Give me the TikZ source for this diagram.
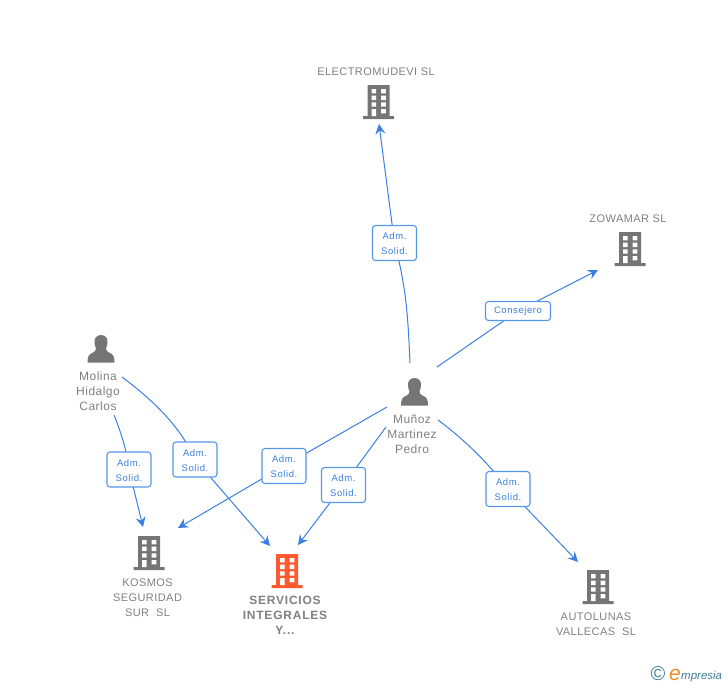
\documentclass[tikz,border=0pt]{standalone}
\usepackage{fontspec}
\setmainfont{Liberation Sans}
\newfontface\spacedA[LetterSpace=4]{Liberation Sans}
\newfontface\spacedB[LetterSpace=6.5]{Liberation Sans Bold}
\newfontface\spacedC[LetterSpace=6]{Liberation Sans}
\usetikzlibrary{arrows.meta,backgrounds}
\definecolor{linkblue}{HTML}{3B80E0}
\definecolor{boxblue}{HTML}{5597EA}
\definecolor{txtgrey}{HTML}{808080}
\definecolor{icongrey}{HTML}{757575}
\definecolor{iconorange}{HTML}{FF5A2D}
\definecolor{logoteal}{HTML}{3F7F9A}
\definecolor{logoorange}{HTML}{F08A1D}
\newcommand{\admsolid}{\rule{0pt}{9pt}Adm.\\Solid.}
\newcommand{\bldgicon}[3]{%
  \begin{scope}[shift={(#1,#2)}]
    \fill[#3] (-11,-17) rectangle (11,15) (-15.5,14) rectangle (15.5,17);
    \fill[white] (-7,-13) rectangle (-2.4,-8.7) (2.7,-13) rectangle (7.3,-8.7)
      (-7,-6.3) rectangle (-2.4,-2) (2.7,-6.3) rectangle (7.3,-2)
      (-7,0.3) rectangle (-2.4,4.7) (2.7,0.3) rectangle (7.3,4.7)
      (-7,7) rectangle (-2.4,14) (2.7,7) rectangle (7.3,11.3);
  \end{scope}}
\newcommand{\personicon}[2]{%
  \begin{scope}[shift={(#1,#2)}]
    \fill[icongrey] (0,-14) .. controls (-5,-14) and (-7,-10) .. (-6.5,-6)
      .. controls (-6.2,-3) and (-5.5,-2) .. (-5,-1)
      .. controls (-5,1.5) and (-6,2.5) .. (-8,3.5)
      .. controls (-12,5) and (-13.5,7) .. (-13.5,13.5)
      -- (13.5,13.5)
      .. controls (13.5,7) and (12,5) .. (8,3.5)
      .. controls (6,2.5) and (5,1.5) .. (5,-1)
      .. controls (5.5,-2) and (6.2,-3) .. (6.5,-6)
      .. controls (7,-10) and (5,-14) .. (0,-14) -- cycle;
  \end{scope}}
\tikzset{
  x=1pt,y=-1pt,
  linkbox/.style={draw=boxblue,line width=1.1pt,fill=white,rounded corners=3pt,inner sep=0pt,
    text=linkblue,font=\spacedC\fontsize{9.5}{15}\selectfont,align=center,minimum width=44pt,minimum height=35pt},
  conbox/.style={linkbox,minimum width=65pt,minimum height=19pt},
  conn/.style={draw=linkblue,line width=1pt},
  arr/.style={conn,-{Stealth[length=10pt,width=10pt,inset=3.5pt]}},
  lab/.style={text=txtgrey,font=\spacedA\fontsize{11}{15}\selectfont,align=center,inner sep=0pt},
  labn/.style={text=txtgrey,font=\spacedA\fontsize{12}{15}\selectfont,align=center,inner sep=0pt},
  labb/.style={text=txtgrey,font=\spacedB\fontsize{12}{15}\selectfont,align=center,inner sep=0pt},
  icon/.style={inner sep=0pt,minimum size=30pt}
}
\begin{document}
\begin{tikzpicture}
\useasboundingbox (0,0) rectangle (728,685);
% icons
\node[icon] (electroicon) at (378.5,102) {};
\bldgicon{378.5}{102}{icongrey}
\node[icon] (zowaicon) at (630,249) {};
\bldgicon{630}{249}{icongrey}
\node[icon] (kosmosicon) at (149,553) {};
\bldgicon{149}{553}{icongrey}
\node[icon] (servicon) at (287,571) {};
\bldgicon{287}{571}{iconorange}
\node[icon] (autoicon) at (598,587) {};
\bldgicon{598}{587}{icongrey}
\node[icon] (molinaicon) at (101,349) {};
\personicon{101}{349}
\node[icon] (munozicon) at (414.5,392) {};
\personicon{414.5}{392}
% labels
\node[lab] (electrolab) at (376,72) {ELECTROMUDEVI SL};
\node[lab] (zowalab) at (628,219) {ZOWAMAR SL};
\node[labn] (molinalab) at (98,391) {Molina\\Hidalgo\\Carlos};
\node[labn] (munozlab) at (412,434) {Muñoz\\Martinez\\Pedro};
\node[lab] (kosmoslab) at (147.5,598) {KOSMOS\\SEGURIDAD\\SUR\ \ SL};
\node[labb] (servlab) at (285,615) {SERVICIOS\\INTEGRALES\\Y...};
\node[lab] (autolab) at (596,624.5) {AUTOLUNAS\\VALLECAS\ \ SL};
% link boxes
\node[linkbox] (b1) at (394.5,243) {\admsolid};
\node[conbox] (b2) at (518,311) {\raisebox{-1pt}{\fontsize{9.5}{12}\selectfont Consejero}};
\node[linkbox] (b3) at (284,466) {\admsolid};
\node[linkbox] (b4) at (343.5,485) {\admsolid};
\node[linkbox] (b5) at (508,489) {\admsolid};
\node[linkbox] (b6) at (129,469.5) {\admsolid};
\node[linkbox] (b7) at (195,459.5) {\admsolid};
% free ends
\coordinate (m1) at (410,363);
\coordinate (m2) at (437,367);
\coordinate (m3) at (387,407);
\coordinate (m4) at (386,427);
\coordinate (m5) at (438,420);
\coordinate (h1) at (114,415);
\coordinate (h2) at (122,377);
\coordinate (t1) at (379,124);
\coordinate (t2) at (598,270);
\coordinate (t3) at (178,528);
\coordinate (t4) at (298,545);
\coordinate (t5) at (578,562);
\coordinate (t6) at (143,527);
\coordinate (t7) at (270,546);
\begin{pgfonlayer}{background}
\draw[conn] (m1) .. controls (408,320) and (407,290) .. (b1.center);
\draw[arr] (b1.center) -- (t1);
\draw[conn] (m2) -- (b2.center);
\draw[arr] (b2.center) -- (t2);
\draw[conn] (m3) -- (b3.center);
\draw[arr] (b3.center) -- (t3);
\draw[conn] (m4) -- (b4.center);
\draw[arr] (b4.center) -- (t4);
\draw[conn] (m5) .. controls (465,440) and (490,465) .. (b5.center);
\draw[arr] (b5.center) -- (t5);
\draw[conn] (h1) .. controls (120,430) and (127,450) .. (b6.center);
\draw[arr] (b6.center) -- (t6);
\draw[conn] (h2) .. controls (150,398) and (180,425) .. (b7.center);
\draw[arr] (b7.center) -- (t7);
\end{pgfonlayer}
% logo
\node[inner sep=0pt,text=logoteal,font=\fontsize{20}{20}\selectfont] (logoc) at (658,674) {©};
\node[inner sep=0pt,anchor=base west,text=logoorange,font=\fontsize{21}{21}\selectfont\itshape] (logoe) at (669,680) {e};
\node[inner sep=0pt,anchor=base west,text=logoteal,font=\fontsize{11.5}{14}\selectfont\itshape] (logot) at (681,679) {mpresia};
\end{tikzpicture}
\end{document}
